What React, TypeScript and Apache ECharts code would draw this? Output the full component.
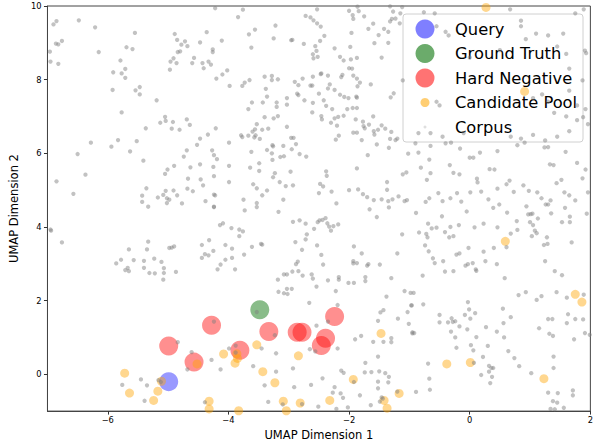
import React, { useEffect, useRef } from "react";
import * as echarts from "echarts";

const seriesNames = ["Query", "Ground Truth", "Hard Negative", "Candidate Pool", "Corpus"];
const xTicks = [-6, -4, -2, 0, 2];
const yTicks = [0, 2, 4, 6, 8, 10];

const queryPoints = [[-4.99, -0.2]];
const groundTruthPoints = [[-3.48, 1.75]];
const hardNegativePoints = [
  [-4.28, 1.33], [-4.99, 0.77], [-4.57, 0.33], [-3.81, 0.65], [-3.33, 1.16],
  [-2.86, 1.14], [-2.78, 1.14], [-2.39, 0.98], [-2.46, 0.78], [-2.24, 1.57],
];
const candidatePoints = [
  [-5.72, 0.03], [-5.64, -0.51], [-5.17, -0.46], [-5.24, -0.71], [-5.11, -0.19],
  [-4.52, 0.28], [-4.08, 0.55], [-4.32, -0.73], [-4.32, -0.94], [-3.86, 0.56],
  [-3.85, 0.43], [-3.89, 0.3], [-3.53, 0.8], [-3.43, 0.07], [-3.23, -0.23],
  [-2.84, 0.5], [-3.83, -0.99], [-3.09, -0.73], [-3.04, -0.99], [-2.81, -0.78],
  [-2.32, -0.71], [-1.93, -0.14], [-1.47, 1.11], [-1.17, -0.52], [-1.42, -0.71],
  [-1.37, -0.92], [-0.38, 0.28], [0.01, 0.32], [1.23, -0.12], [0.59, 3.61],
  [1.75, 2.17], [1.86, 1.96], [0.27, 9.96], [0.91, 7.68],
];
const corpusPoints = [
  [-4.22,9.94],[-6.9,9.5],[-6.85,9.59],[-6.48,9.61],[-6.21,9.42],[-5.55,9.27],[-6.86,8.98],[-6.82,8.96],[-6.76,9.05],[-6.96,8.76],
  [-6.95,8.49],[-6.82,8.43],[-6.15,8.75],[-5.69,8.88],[-5.59,8.83],[-5.79,8.52],[-5.91,8.2],[-5.77,8.17],[-5.71,8.29],[-5.71,8.05],
  [-5.92,7.72],[-5.54,7.71],[-5.47,7.8],[-5.47,7.6],[-5.19,7.44],[-5.77,7.11],[-4.89,9.24],[-4.85,9.08],[-4.78,8.95],[-4.72,9.04],
  [-4.68,8.91],[-4.84,8.75],[-4.8,8.77],[-4.36,9.29],[-4.47,9.01],[-4.11,9.06],[-4.26,8.82],[-4.26,8.75],[-4.91,8.58],[-4.96,8.49],
  [-4.86,8.45],[-4.97,8.27],[-4.57,8.59],[-4.6,8.45],[-4.43,8.45],[-4.41,8.31],[-4.33,8.49],[-4.29,8.41],[-4.02,8.25],[-4.1,8.14],
  [-4.2,8.03],[-3.98,7.83],[-5.05,6.99],[-5.04,6.88],[-5.13,6.83],[-4.92,6.85],[-4.69,6.92],[-4.64,6.77],[-4.94,6.67],[-4.81,6.64],
  [-5.37,6.68],[-4.21,6.68],[-4.34,6.51],[-4.47,6.4],[-4.52,6.23],[-3.99,6.29],[-6.28,6.29],[-5.83,6.36],[-5.94,6.18],[-5.52,6.33],
  [-5.63,6.05],[-6.5,5.98],[-5.41,5.8],[-4.69,6.08],[-4.27,6.08],[-4.24,5.95],[-4.74,5.91],[-4.19,5.84],[-4.47,5.7],[-4.63,5.62],
  [-4.9,5.66],[-4.25,5.63],[-3.99,5.66],[-5.01,5.56],[-5.05,5.44],[-6.37,5.42],[-6.85,5.24],[-4.67,5.31],[-4.46,5.29],[-4.24,5.38],
  [-3.99,5.22],[-4.42,5.13],[-5.36,5.05],[-5.04,4.98],[-4.91,4.99],[-4.68,5.04],[-4.59,4.97],[-5.08,4.87],[-5.17,4.8],[-5.02,4.78],
  [-4.98,4.74],[-4.85,4.86],[-5.43,4.85],[-5.43,4.68],[-6.57,4.9],[-4.77,4.64],[-4.38,4.7],[-4.24,4.88],[-4.22,4.86],[-5.33,4.55],
  [-4.24,4.55],
  [-3.76,9.9],[-3.84,9.7],[-3.22,9.47],[-3.66,9.23],[-3.56,9.36],[-3.62,8.87],[-3.25,9.12],[-2.96,9.07],[-2.94,9.08],[-2.75,8.97],
  [-2.72,9.73],[-2.64,9.69],[-2.59,9.61],[-2.53,9.53],[-2.47,9.44],[-2.53,9.91],[-2.41,9.19],[-2.48,9.05],[-2.56,8.91],[-2.54,8.78],
  [-2.6,8.69],[-2.59,8.58],[-2.52,8.62],[-2.24,8.85],[-2.15,8.62],[-2.09,8.52],[-1.97,8.55],[-1.87,8.59],[-1.98,8.89],[-1.96,9.27],
  [-2.0,9.87],[-1.93,9.65],[-1.94,9.75],[-1.86,9.98],[-1.84,9.86],[-1.75,9.72],[-1.68,9.38],[-1.6,9.52],[-1.58,8.99],[-1.51,9.21],
  [-1.42,9.38],[-1.35,9.3],[-1.35,9.0],[-1.32,9.58],[-1.29,9.65],[-1.23,9.66],[-1.27,9.85],[-1.16,9.53],[-1.15,9.8],[-1.32,9.99],
  [-1.12,9.97],[-1.46,8.6],[-2.0,8.31],[-1.95,8.3],[-2.11,8.13],[-1.93,8.11],[-1.87,8.03],[-2.13,8.07],[-1.82,7.92],[-1.86,7.82],
  [-1.64,7.87],[-1.88,7.54],[-1.87,7.51],[-2.08,7.53],[-2.01,7.5],[-2.15,7.59],[-2.24,7.72],[-2.35,7.76],[-2.32,7.87],[-2.35,8.11],
  [-2.46,8.17],[-2.47,8.15],[-2.6,8.08],[-2.61,7.84],[-2.64,7.84],[-2.77,8.03],[-2.9,7.94],[-2.84,7.85],[-2.86,7.62],[-2.84,7.58],
  [-2.74,7.44],[-2.6,7.37],[-2.5,7.62],[-2.42,7.44],[-2.38,7.29],[-2.28,7.2],[-2.61,7.11],[-2.46,7.01],[-2.45,6.92],[-2.3,6.83],
  [-2.24,6.95],[-2.18,6.99],[-2.09,7.02],[-2.03,7.2],[-1.94,7.23],[-1.87,7.23],[-1.89,6.92],[-1.77,6.86],[-1.76,6.74],[-1.67,6.78],
  [-1.6,7.0],[-1.74,6.68],[-1.59,6.6],[-1.58,6.51],[-1.52,6.64],[-1.46,6.76],[-1.4,6.67],[-1.3,6.58],[-1.32,6.39],[-1.23,6.36],
  [-1.2,6.4],[-1.34,6.15],[-1.54,6.24],[-1.87,6.56],[-1.93,6.56],[-1.79,6.36],[-2.2,6.75],[-2.17,6.48],[-2.22,6.37],[-1.31,7.52],
  [-1.26,7.63],[-1.11,7.98],[-1.02,5.99],[-1.69,5.95],[-1.87,5.59],[-1.11,5.43],[-1.05,5.48],[-1.37,5.22],[-1.37,5.01],[-1.59,4.73],
  [-1.7,4.81],[-1.77,4.89],[-1.85,5.02],[-2.0,5.0],[-2.21,4.64],[-2.29,4.96],[-2.38,5.51],[-2.37,5.39],[-2.43,5.1],[-2.48,5.17],
  [-2.5,4.92],[-1.46,4.75],[-1.35,4.7],[-1.28,4.75],[-1.18,4.83],[-1.08,4.7],[-1.04,4.73],[-2.97,5.5],[-2.93,5.13],[-3.05,5.11],
  [-3.15,5.22],[-3.09,4.74],[-3.23,5.46],[-3.26,5.35],[-3.36,4.99],[-3.44,4.86],[-3.53,5.05],[-3.59,5.16],[-3.49,5.52],[-3.49,5.73],
  [-3.64,5.61],[-3.75,4.74],[-3.53,4.65],[-3.53,4.54],[-3.62,6.04],[-3.36,6.09],[-3.28,6.0],[-3.27,5.82],[-3.27,6.22],[-3.26,6.19],
  [-3.14,5.9],[-3.08,5.92],[-3.09,6.2],[-2.96,6.42],[-2.92,6.42],[-2.88,6.25],[-2.95,6.11],[-2.82,5.98],[-2.71,5.91],[-3.03,6.72],
  [-3.18,7.01],[-3.25,6.95],[-3.34,6.67],[-3.44,6.64],[-3.56,6.65],[-3.53,6.79],[-3.4,6.98],[-3.55,6.49],[-3.6,6.59],[-3.67,6.48],
  [-3.79,6.49],[-3.77,6.44],[-3.57,6.43],[-3.48,6.39],[-3.67,7.2],[-3.61,7.38],[-3.43,7.38],[-3.36,7.54],[-3.2,7.38],[-3.2,7.26],
  [-3.03,7.5],[-3.03,7.32],[-3.38,7.75],[-3.4,8.08],[-3.28,8.1],[-3.28,7.99],[-3.18,8.01],[-3.77,7.83],[-3.73,7.92],[-3.65,7.99],
  [-0.76,9.83],[-0.58,9.8],[0.67,9.91],[1.75,9.8],[1.89,9.91],[1.91,8.79],[1.93,8.72],[1.87,7.98],[1.92,7.2],[1.96,6.79],[1.88,6.98],
  [-0.55,9.45],[-0.4,9.3],[-0.35,9.2],[0.85,9.6],[0.85,9.45],[0.93,9.1],[1.1,9.25],[1.3,9.2],[1.45,8.9],[1.55,9.25],
  [1.6,8.7],[1.65,8.3],[1.2,7.6],[1.05,7.5],[1.3,7.4],[1.4,7.1],[1.6,7.0],[1.65,7.7],[1.78,7.3],[1.78,6.9],
  [1.65,6.6],[1.45,6.45],[1.25,6.35],[1.05,6.5],[0.85,6.4],[0.68,6.45],[-0.1,6.55],[-0.45,6.45],[-0.65,6.55],[-0.85,6.55],
  [-0.5,7.3],[-0.55,7.4],[0.0,8.6],[0.5,8.8],
  [-0.9,6.27],[-0.65,6.2],[-0.4,6.27],[-0.31,6.29],[-0.16,6.13],[0.0,5.88],[0.06,5.88],[0.17,6.02],[0.46,6.06],[0.79,6.22],
  [0.91,6.29],[1.24,6.16],[1.3,6.17],[1.33,5.7],[1.39,5.68],[1.59,6.04],[1.78,5.74],[1.87,5.32],[1.92,5.56],[-0.85,6.02],
  [-0.67,5.83],[-0.81,5.61],[-0.33,5.68],[-0.27,5.47],[-0.17,5.43],[0.12,5.31],[0.13,5.21],[0.33,5.57],[0.41,5.56],[0.66,5.26],
  [0.61,5.16],[0.46,5.04],[0.19,4.96],[0.01,4.94],[0.31,4.75],[0.73,4.95],[0.89,5.13],[0.98,4.98],[1.12,4.94],[1.19,4.78],
  [1.34,4.72],[1.57,4.94],[1.65,4.86],[1.75,4.72],[1.96,4.94],[-0.65,5.46],[-0.71,5.28],[-0.67,4.78],[-0.52,4.92],[-0.45,4.7],
  [-0.32,4.78],[-0.21,4.92],[-0.14,4.69],[-0.73,4.68],[1.44,5.19],[1.52,5.28],
  [-5.02,4.65],[-4.24,4.54],
  [-6.95,3.93],[-6.94,3.9],[-6.76,3.58],[-5.33,3.6],[-5.65,3.39],[-5.35,3.39],[-5.78,3.11],[-5.86,3.01],[-5.57,3.1],[-5.67,2.89],
  [-5.71,2.83],[-5.65,2.8],[-5.4,3.08],[-5.4,2.89],[-5.23,3.14],[-5.11,3.05],[-5.31,2.75],[-5.22,2.74],[-5.07,2.88],[-5.07,2.75],
  [-5.08,2.57],[-4.98,3.43],[-4.94,3.44],[-4.9,3.47],[-4.87,2.78],[-4.44,3.51],[-4.32,3.64],[-4.39,3.26],[-4.33,3.23],[-4.25,3.35],
  [-4.44,3.16],[-4.05,3.51],[-4.05,3.11],[-4.13,2.98],[-4.18,2.85],[-4.14,4.05],[-4.09,4.1],
  [-4.24,1.43],[-4.84,0.87],[-4.61,0.6],[-4.28,0.39],[-4.13,0.13],[-4.68,0.13],[-5.45,-0.14],[-5.76,-0.29],[-5.35,-0.3],[-5.16,-0.16],
  [-5.12,-0.21],[-5.39,-0.72],[-4.39,-0.76],[-3.99,0.7],
  [-3.73,4.45],[-3.17,4.41],[-2.93,4.14],[-2.82,4.18],[-2.72,4.09],[-2.58,3.95],[-2.52,4.13],[-2.49,4.18],[-2.44,4.19],[-2.39,4.24],
  [-2.36,4.1],[-2.33,4.01],[-2.26,4.02],[-2.18,4.07],[-2.3,3.9],[-2.7,3.8],[-2.72,3.66],[-2.89,3.59],[-2.78,3.38],[-2.53,3.5],
  [-2.46,3.24],[-2.43,2.98],[-2.88,2.99],[-2.85,3.06],[-2.94,2.79],[-2.84,2.8],[-2.77,2.68],[-2.62,2.71],[-2.6,2.6],[-2.54,2.38],
  [-2.35,2.55],[-2.17,2.64],[-2.17,2.57],[-2.22,2.26],[-2.01,2.48],[-1.92,2.48],[-1.73,2.64],[-1.73,2.53],[-1.92,3.47],[-1.79,3.28],
  [-1.93,3.07],[-1.93,3.01],[-1.87,3.02],[-1.7,2.95],[-1.68,2.99],[-1.49,2.98],[-1.3,2.61],[-1.08,2.26],[-0.98,2.21],[-1.2,3.28],
  [-1.12,3.8],[-1.54,4.27],[-1.66,4.48],[-1.34,4.53],[-3.18,2.57],[-3.08,2.71],[-3.03,2.71],[-2.95,2.32],[-3.03,2.32],[-3.08,2.2],
  [-3.02,2.18],[-3.17,2.24],[-2.66,1.94],[-2.19,1.88],[-2.35,1.43],[-2.54,1.32],[-2.65,0.68],[-2.56,0.62],[-2.19,0.7],[-1.9,0.95],
  [-1.8,1.04],[-1.6,0.88],[-1.43,0.88],[-1.3,0.87],[-1.3,0.98],[-1.38,2.11],[-1.43,1.74],[-1.48,1.68],[-1.52,1.45],[-1.19,1.51],
  [-1.03,1.69],[-0.97,1.87],[-1.01,1.37],[-0.95,1.11],[-1.52,0.48],[-1.73,0.31],[-1.74,0.05],[-1.63,0.06],[-1.5,0.08],[-1.4,0.03],
  [-1.34,-0.07],[-1.35,-0.22],[-1.52,-0.2],[-1.52,-0.38],[-2.13,0.1],[-2.09,0.04],[-1.92,-0.21],[-2.44,-0.11],[-2.63,-0.29],[-2.91,-0.35],
  [-2.93,0.16],[-3.21,0.07],[-3.4,-0.3],[-3.59,0.22],[-3.21,0.57],[-3.45,0.7],[-3.23,1.06],[-3.53,1.69],[-3.88,0.78],[-3.88,0.59],
  [-3.94,3.16],[-3.89,2.85],[-3.94,3.41],[-3.82,3.75],[-3.76,3.88],[-3.82,3.93],[-3.95,3.97],[-3.74,3.25],[-3.61,3.46],[-3.46,3.54],
  [-3.44,3.52],[-3.34,-0.75],[-3.1,-0.82],[-2.78,-0.81],[-2.51,-0.88],[-2.24,-0.35],[-2.27,-0.5],[-2.14,-0.52],[-2.1,-0.64],[-1.82,-0.57],
  [-1.64,-0.84],[-1.46,-0.63],[-1.44,-0.66],[-1.49,-0.74],[-1.2,-0.47],[-2.21,-0.94],[-2.02,-0.9],[-0.95,1.14],
  [-0.89,4.38],[-0.46,4.29],[-0.05,4.42],[0.39,4.52],[0.49,4.61],[0.62,4.39],[0.94,4.56],[0.97,4.34],[1.01,4.35],[1.04,4.36],
  [1.13,4.23],[1.26,4.61],[1.3,4.61],[1.35,4.37],[1.58,4.52],[1.66,4.28],[1.66,4.13],[1.53,4.13],[1.94,4.36],[-0.69,4.09],
  [-0.63,3.96],[-0.55,3.98],[-0.84,3.85],[-0.72,3.81],[-0.7,3.72],[-0.74,3.5],[-0.68,3.34],[-0.61,3.15],[-0.58,3.02],[-0.44,3.07],
  [-0.41,2.79],[-0.27,2.8],[-0.41,3.86],[-0.32,4.0],[-0.34,3.72],[-0.27,3.75],[-0.18,4.05],[-0.22,3.25],[-0.17,3.28],[-0.02,3.43],
  [-0.07,2.95],[-0.03,2.99],[0.05,3.02],[0.1,2.85],[0.11,2.81],[0.08,3.99],[0.23,4.09],[0.23,3.33],[0.26,3.07],[0.4,3.43],
  [0.45,2.99],[0.46,3.99],[0.61,3.45],[0.68,3.82],[0.79,3.92],[0.78,4.16],[1.0,4.13],[1.05,4.05],[1.08,3.9],[1.11,3.83],
  [1.03,3.75],[1.28,3.72],[1.29,3.54],[1.23,3.51],[1.69,3.58],[1.25,3.07],[1.41,2.8],[1.53,2.69],[0.58,2.61],[-0.78,2.68],
  [-0.93,2.21],[-0.77,1.9],[-0.96,1.87],[0.81,2.15],[0.93,2.23],[1.11,2.02],[1.19,2.12],[1.44,2.23],[1.61,2.08],[1.89,2.16],
  [0.55,1.78],[0.68,1.55],[-0.03,1.96],[-0.01,1.76],[-0.08,1.61],[0.09,1.66],[0.01,1.51],[-0.5,1.61],[-0.5,1.41],[-0.36,1.41],
  [-0.3,1.52],[-0.28,1.42],[-0.24,1.44],[-0.17,1.3],[-0.31,1.16],[-0.24,1.0],[-0.04,1.22],[0.11,1.01],[0.27,1.28],[0.45,1.16],
  [0.57,1.0],[0.56,1.39],[-0.22,0.72],[0.02,0.79],[0.06,0.65],[0.3,0.77],[0.22,0.47],[0.07,0.31],[0.32,0.23],[0.36,0.17],
  [0.39,0.17],[0.32,0.07],[0.37,-0.07],[0.34,-0.24],[0.19,-0.02],[0.64,0.63],[0.74,0.44],[0.82,0.22],[1.02,0.03],[1.3,1.5],
  [1.37,1.5],[1.15,1.25],[1.32,1.1],[1.38,1.04],[1.63,1.63],[1.75,1.5],[1.88,1.49],[1.61,1.39],[1.73,0.95],[1.91,1.12],
  [1.99,1.07],[1.39,0.48],[1.39,0.17],[1.3,-0.5],[1.46,-0.51],[1.38,-0.73],[1.45,-0.77],[1.56,-0.91],[1.34,-0.94],[1.41,-0.95],
  [1.71,-0.44],[1.71,-0.57],[-0.92,1.12],[-0.69,0.29],[-0.67,-0.12],[-0.66,-0.42],[-0.89,-0.48],
];

const fontFamily = "DejaVu Sans";
const minusFmt = (v: number) => String(v).replace("-", "\u2212");

export default function App() {
  const ref = useRef<HTMLDivElement>(null);

  useEffect(() => {
    if (!ref.current) return;
    const chart = echarts.init(ref.current, undefined, { renderer: "svg" });

    const legendRows = [
      { name: seriesNames[0], r: 9.5, color: "rgba(0,0,255,0.5)" },
      { name: seriesNames[1], r: 9.5, color: "rgba(0,110,0,0.58)" },
      { name: seriesNames[2], r: 9.5, color: "rgba(255,0,0,0.55)" },
      { name: seriesNames[3], r: 4.5, color: "rgba(255,165,0,0.55)" },
      { name: seriesNames[4], r: 1.5, color: "rgba(128,128,128,0.25)" },
    ];
    const legendX = 403;
    const legendY = 14;
    const rowH = 24.5;
    const legendChildren: any[] = [
      {
        type: "rect",
        shape: { x: legendX, y: legendY, width: 180, height: 128, r: 3 },
        style: { fill: "rgba(255,255,255,0.8)", stroke: "#d0d0d0", lineWidth: 1 },
      },
    ];
    legendRows.forEach((row, i) => {
      const cy = legendY + 15 + i * rowH;
      legendChildren.push({
        type: "circle",
        shape: { cx: legendX + 22, cy, r: row.r },
        style: { fill: row.color },
      });
      legendChildren.push({
        type: "text",
        x: legendX + 52,
        y: cy,
        style: {
          text: row.name,
          fontSize: 16.3,
          fontFamily,
          fill: "#000",
          verticalAlign: "middle",
          align: "left",
        },
      });
    });

    const scatter = (name: string, data: number[][], size: number, color: string) => ({
      name,
      type: "scatter",
      data,
      symbolSize: size,
      itemStyle: { color, borderWidth: 0 },
      emphasis: { disabled: true },
    });

    chart.setOption({
      animation: false,
      backgroundColor: "#ffffff",
      grid: {
        left: 45,
        right: 4,
        top: 6,
        bottom: 31,
        show: true,
        borderColor: "#444",
        borderWidth: 1,
        backgroundColor: "transparent",
      },
      xAxis: {
        type: "value",
        min: -7,
        max: 2,
        name: "UMAP Dimension 1",
        nameLocation: "middle",
        nameGap: 15,
        nameTextStyle: { fontSize: 11.5, fontFamily, color: "#000" },
        axisLine: { show: true, onZero: false, lineStyle: { color: "#444", width: 1 } },
        axisTick: { show: true, length: 3.5, lineStyle: { color: "#333" }, customValues: xTicks },
        axisLabel: {
          fontSize: 8.3,
          fontFamily,
          color: "#000",
          margin: 5,
          customValues: xTicks,
          formatter: minusFmt,
        },
        splitLine: { show: false },
      },
      yAxis: {
        type: "value",
        min: -1,
        max: 10,
        name: "UMAP Dimension 2",
        nameLocation: "middle",
        nameGap: 15,
        nameTextStyle: { fontSize: 11.5, fontFamily, color: "#000" },
        axisLine: { show: true, onZero: false, lineStyle: { color: "#444", width: 1 } },
        axisTick: { show: true, length: 3.5, lineStyle: { color: "#333" }, customValues: yTicks },
        axisLabel: {
          fontSize: 8.3,
          fontFamily,
          color: "#000",
          margin: 6,
          customValues: yTicks,
          formatter: minusFmt,
        },
        splitLine: { show: false },
      },
      series: [
        scatter(seriesNames[0], queryPoints, 19, "rgba(0,0,255,0.5)"),
        scatter(seriesNames[1], groundTruthPoints, 19, "rgba(0,110,0,0.58)"),
        scatter(seriesNames[2], hardNegativePoints, 19, "rgba(255,0,0,0.55)"),
        scatter(seriesNames[3], candidatePoints, 9, "rgba(255,165,0,0.55)"),
        scatter(seriesNames[4], corpusPoints, 4.3, "rgba(128,128,128,0.6)"),
      ],
      graphic: [{ type: "group", z: 100, children: legendChildren }],
    });

    return () => chart.dispose();
  }, []);

  return (
    <div
      ref={ref}
      style={{ position: "fixed", left: 0, top: 0, width: 596, height: 446 }}
    />
  );
}
